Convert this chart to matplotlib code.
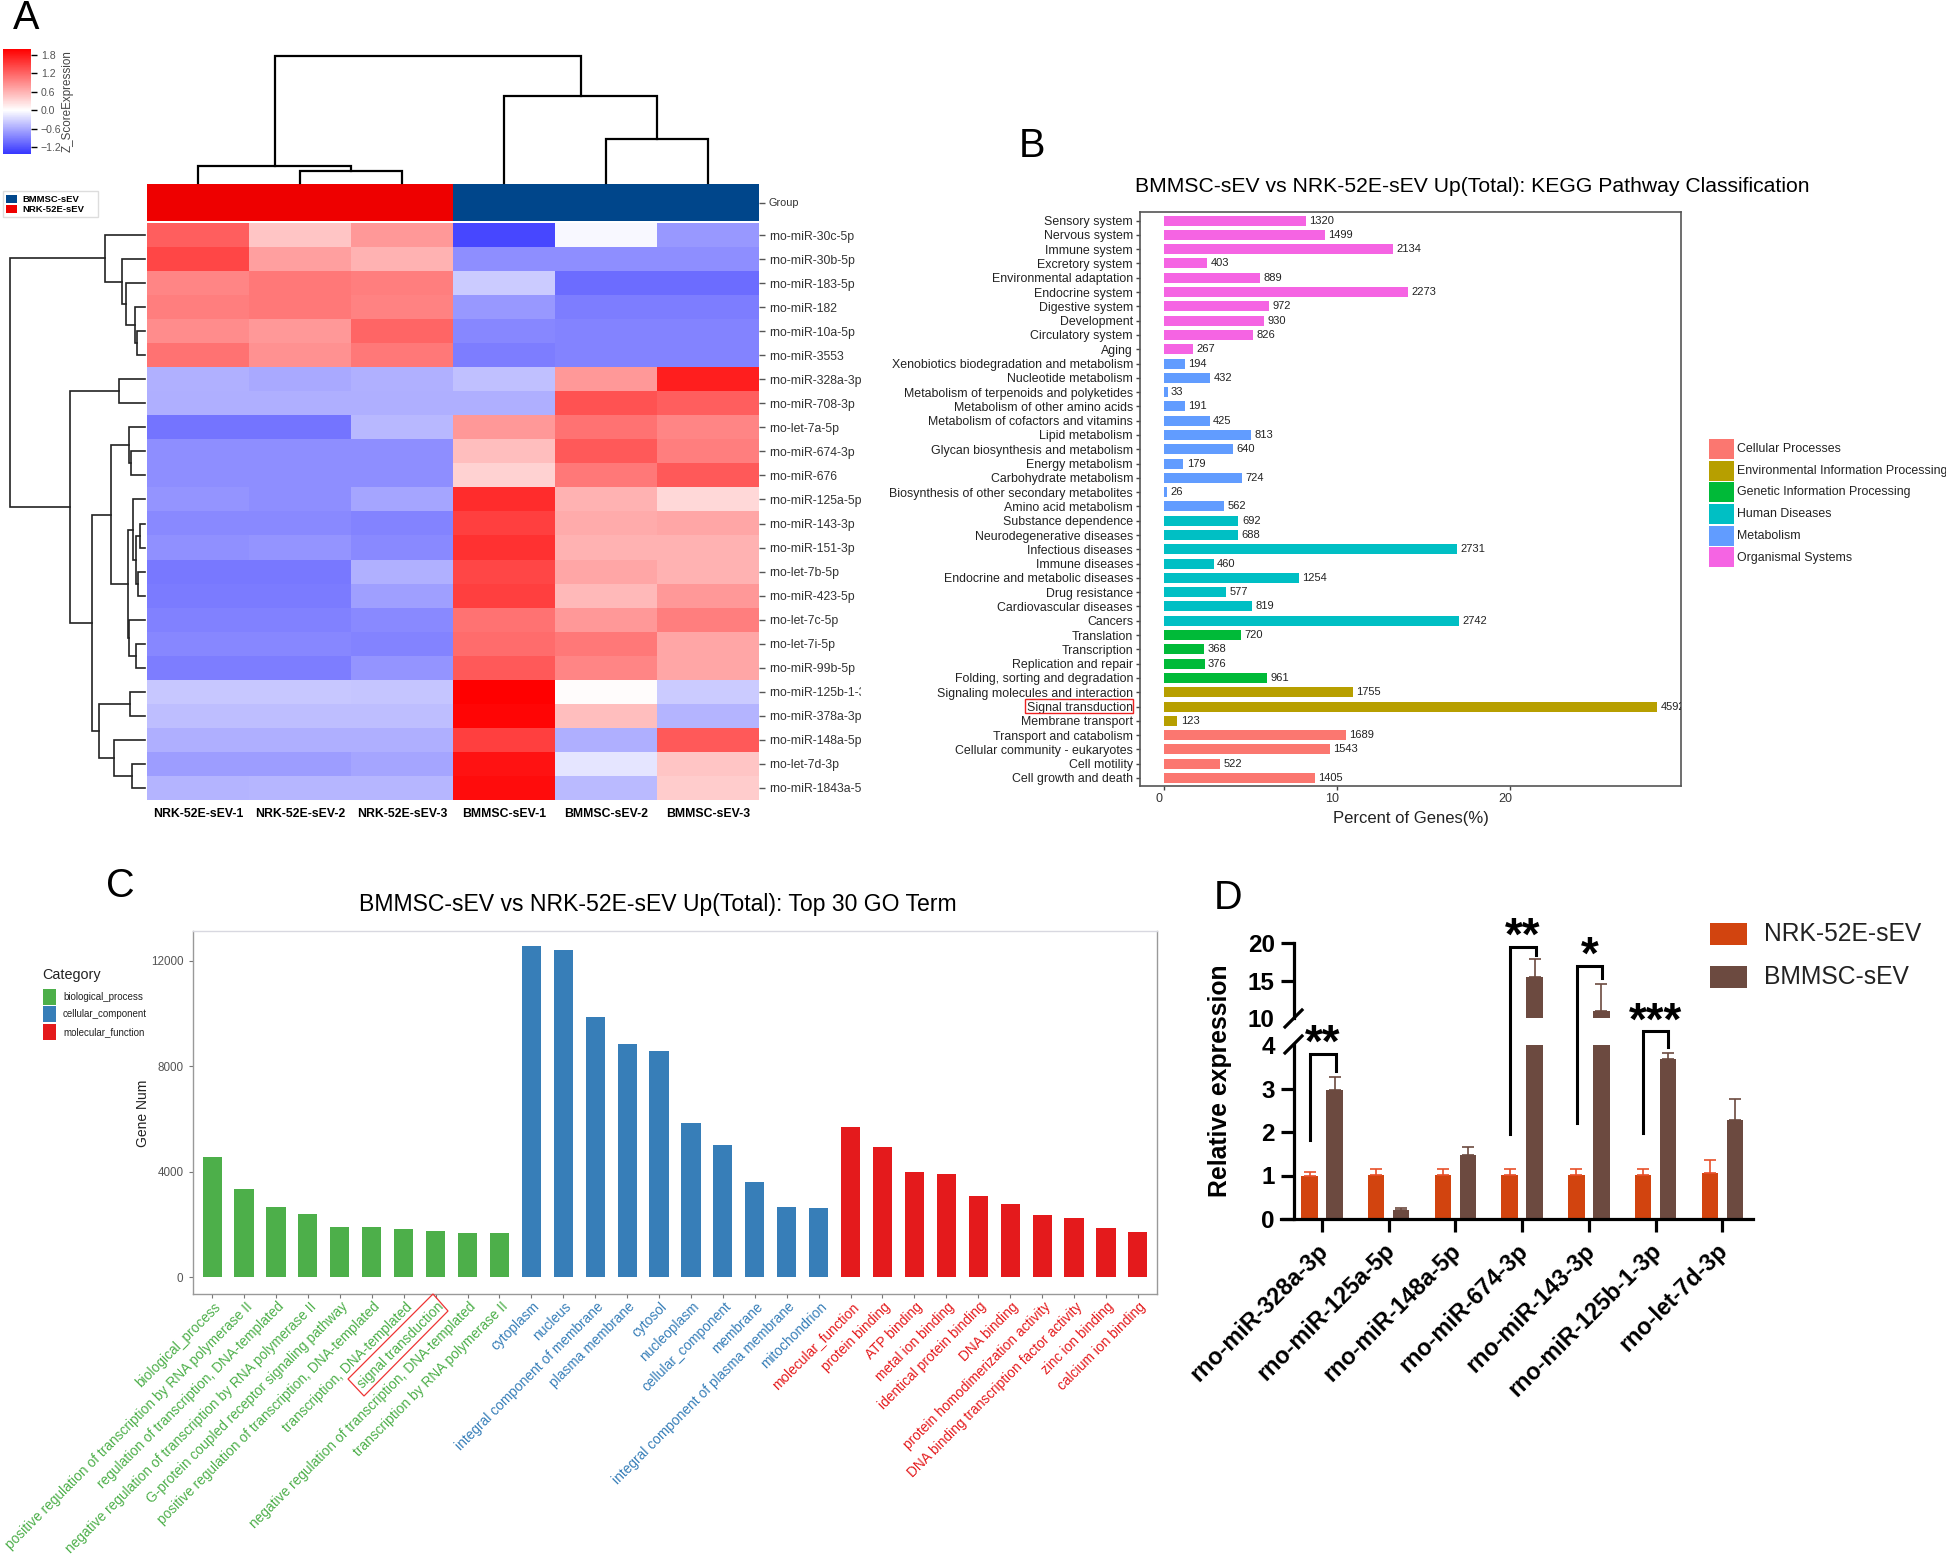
"""Four panel miRNA figure: heatmap (A), KEGG classes (B), GO terms (C), qPCR with broken axis (D)."""
import matplotlib; matplotlib.use("Agg")
import matplotlib.pyplot as plt
import numpy as np
from matplotlib.colors import LinearSegmentedColormap, Normalize
from matplotlib.lines import Line2D
from matplotlib.patches import Rectangle, Polygon
from matplotlib.transforms import Affine2D

plt.rcParams['font.family'] = ['Liberation Sans', 'DejaVu Sans']
W, H = 1946, 1557

# panel A
SAMPLES = ["NRK-52E-sEV-1", "NRK-52E-sEV-2", "NRK-52E-sEV-3", "BMMSC-sEV-1", "BMMSC-sEV-2", "BMMSC-sEV-3"]
MIRNAS = ["rno-miR-30c-5p", "rno-miR-30b-5p", "rno-miR-183-5p", "rno-miR-182", "rno-miR-10a-5p", "rno-miR-3553",
          "rno-miR-328a-3p", "rno-miR-708-3p", "rno-let-7a-5p", "rno-miR-674-3p", "rno-miR-676", "rno-miR-125a-5p",
          "rno-miR-143-3p", "rno-miR-151-3p", "rno-let-7b-5p", "rno-miR-423-5p", "rno-let-7c-5p", "rno-let-7i-5p",
          "rno-miR-99b-5p", "rno-miR-125b-1-3p", "rno-miR-378a-3p", "rno-miR-148a-5p", "rno-let-7d-3p", "rno-miR-1843a-5p"]
ZSCORE = [[1.25, .45, .8, -1.3, -.04, -.73], [1.45, .75, .6, -.79, -.79, -.79], [.95, 1.05, 1.0, -.37, -1.03, -1.03],
          [1.0, 1.05, .98, -.73, -.91, -.91], [.9, .8, 1.2, -.85, -.88, -.88], [1.1, .85, 1.05, -.91, -.88, -.88],
          [-.55, -.6, -.55, -.45, .8, 1.75], [-.57, -.57, -.57, -.57, 1.35, 1.25], [-.98, -.98, -.5, .8, 1.1, .95],
          [-.8, -.8, -.8, .5, 1.3, 1.0], [-.8, -.8, -.8, .35, 1.05, 1.3], [-.76, -.8, -.63, 1.65, .6, .3],
          [-.83, -.83, -.88, 1.5, .65, .7], [-.78, -.76, -.83, 1.6, .6, .6], [-.95, -.95, -.55, 1.45, .7, .6],
          [-.93, -.93, -.67, 1.5, .55, .8], [-.89, -.89, -.83, 1.1, .8, 1.0], [-.85, -.85, -.88, 1.15, 1.05, .7],
          [-.91, -.91, -.76, 1.3, .95, .7], [-.39, -.39, -.4, 2.0, .02, -.37], [-.46, -.46, -.46, 1.95, .5, -.52],
          [-.56, -.56, -.56, 1.5, -.57, 1.3], [-.68, -.68, -.63, 1.85, -.18, .45], [-.52, -.51, -.51, 1.9, -.49, .4]]
GROUPS = [1, 1, 1, 0, 0, 0]
GROUP_NAMES = ["BMMSC-sEV", "NRK-52E-sEV"]
GROUP_COLORS = ["#00468B", "#EE0000"]
# merges like scipy linkage: ids >= n point at an earlier merge
ROW_TREE = [(4, 5, 8), (3, 24, 10), (2, 25, 19), (1, 26, 23), (0, 27, 40), (6, 7, 26), (9, 10, 14), (8, 30, 16),
            (12, 13, 5.5), (14, 15, 7), (32, 33, 9), (11, 34, 12), (17, 18, 9), (16, 36, 16), (35, 37, 17.5),
            (31, 38, 34), (19, 20, 15), (22, 23, 13), (21, 41, 31), (40, 42, 46), (39, 43, 53), (29, 44, 75), (28, 45, 135)]
COL_TREE = [(1, 2, 12), (0, 6, 17), (4, 5, 44), (3, 8, 87), (7, 9, 127)]
CBAR_TICKS = [-1.2, -0.6, 0.0, 0.6, 1.2, 1.8]

# panel B
KEGG = ["Sensory system", "Nervous system", "Immune system", "Excretory system", "Environmental adaptation",
        "Endocrine system", "Digestive system", "Development", "Circulatory system", "Aging",
        "Xenobiotics biodegradation and metabolism", "Nucleotide metabolism", "Metabolism of terpenoids and polyketides",
        "Metabolism of other amino acids", "Metabolism of cofactors and vitamins", "Lipid metabolism",
        "Glycan biosynthesis and metabolism", "Energy metabolism", "Carbohydrate metabolism",
        "Biosynthesis of other secondary metabolites", "Amino acid metabolism", "Substance dependence",
        "Neurodegenerative diseases", "Infectious diseases", "Immune diseases", "Endocrine and metabolic diseases",
        "Drug resistance", "Cardiovascular diseases", "Cancers", "Translation", "Transcription", "Replication and repair",
        "Folding, sorting and degradation", "Signaling molecules and interaction", "Signal transduction",
        "Membrane transport", "Transport and catabolism", "Cellular community - eukaryotes", "Cell motility",
        "Cell growth and death"]
KEGG_N = [1320, 1499, 2134, 403, 889, 2273, 972, 930, 826, 267, 194, 432, 33, 191, 425, 813, 640, 179, 724, 26, 562,
          692, 688, 2731, 460, 1254, 577, 819, 2742, 720, 368, 376, 961, 1755, 4592, 123, 1689, 1543, 522, 1405]
KEGG_PCT = [8.20, 9.31, 13.25, 2.50, 5.52, 14.12, 6.04, 5.78, 5.13, 1.66, 1.20, 2.68, .20, 1.19, 2.64, 5.05, 3.98, 1.11,
            4.50, .16, 3.49, 4.30, 4.27, 16.96, 2.86, 7.79, 3.58, 5.09, 17.03, 4.47, 2.29, 2.34, 5.97, 10.90, 28.52, .76,
            10.49, 9.58, 3.24, 8.73]
KEGG_CLASSES = ["Cellular Processes", "Environmental Information Processing", "Genetic Information Processing",
                "Human Diseases", "Metabolism", "Organismal Systems"]
KEGG_COLORS = ["#FB7770", "#B79F00", "#00BA38", "#00BFC4", "#619CFF", "#F564E3"]
KEGG_CLASS = [5] * 10 + [4] * 11 + [3] * 8 + [2] * 4 + [1] * 3 + [0] * 4

# panel C
GO = ["biological_process", "positive regulation of transcription by RNA polymerase II",
      "regulation of transcription, DNA-templated", "negative regulation of transcription by RNA polymerase II",
      "G-protein coupled receptor signaling pathway", "positive regulation of transcription, DNA-templated",
      "transcription, DNA-templated", "signal transduction", "negative regulation of transcription, DNA-templated",
      "transcription by RNA polymerase II", "cytoplasm", "nucleus", "integral component of membrane", "plasma membrane",
      "cytosol", "nucleoplasm", "cellular_component", "membrane", "integral component of plasma membrane", "mitochondrion",
      "molecular_function", "protein binding", "ATP binding", "metal ion binding", "identical protein binding", "DNA binding",
      "protein homodimerization activity", "DNA binding transcription factor activity", "zinc ion binding", "calcium ion binding"]
GO_N = [4545, 3333, 2650, 2400, 1920, 1895, 1845, 1755, 1667, 1667, 12560, 12410, 9860, 8850, 8560, 5860, 5025, 3600, 2680,
        2640, 5695, 4940, 3980, 3930, 3080, 2765, 2360, 2250, 1870, 1720]
GO_CLASSES = ["biological_process", "cellular_component", "molecular_function"]
GO_COLORS = ["#4DAF4A", "#377EB8", "#E41A1C"]
GO_CLASS = [0] * 10 + [1] * 10 + [2] * 10

# panel D
QPCR = ["rno-miR-328a-3p", "rno-miR-125a-5p", "rno-miR-148a-5p", "rno-miR-674-3p", "rno-miR-143-3p", "rno-miR-125b-1-3p", "rno-let-7d-3p"]
NRK = [1.0, 1.02, 1.01, 1.01, 1.01, 1.01, 1.06]
NRK_ERR = [.08, .14, .14, .14, .14, .14, .29]
BM = [2.97, .21, 1.46, 15.5, 11.0, 3.67, 2.28]
BM_ERR = [.30, .05, .20, 2.4, 3.5, .15, .49]
D_COLORS = ["#D2440F", "#6C4A40"]
D_NAMES = ["NRK-52E-sEV", "BMMSC-sEV"]

fig = plt.figure(figsize=(W / 100, H / 100), dpi=100)
PX = Affine2D().scale(1 / W, -1 / H).translate(0, 1) + fig.transFigure
def axpx(x0, y0, x1, y1, **kw): return fig.add_axes([x0 / W, 1 - y1 / H, (x1 - x0) / W, (y1 - y0) / H], **kw)
def txt(x, y, s, **kw): return fig.text(x / W, 1 - y / H, s, **kw)
def line(xs, ys, **kw): fig.add_artist(Line2D(xs, ys, transform=PX, **kw))
def box(x, y, w, h, **kw): fig.add_artist(Rectangle((x, y), w, h, transform=PX, **kw))
def nudge(labels, dx):
    # call after tick_params, it resets the label transforms
    for lab in labels: lab.set_transform(lab.get_transform() + Affine2D().translate(dx, 0))

def draw_tree(ax, merges, n, horizontal=False, **kw):
    pos, hts = list(range(n)), [0] * n
    for a, b, h in merges:
        xs, ys = [pos[a], pos[a], pos[b], pos[b]], [hts[a], h, h, hts[b]]
        if horizontal: xs, ys = ys, xs
        ax.plot(xs, ys, clip_on=False, solid_joinstyle="miter", **kw)
        pos.append((pos[a] + pos[b]) / 2); hts.append(h)
    ax.axis("off")

for s, x, y in [("A", 13, 29), ("B", 1019, 157), ("C", 106, 897), ("D", 1214, 909)]:
    txt(x, y, s, fontsize=28.5, color="black", va="baseline")

# ---- A
cmap = LinearSegmentedColormap.from_list("bwr2", [(0, "#3636FF"), (1.43 / 3.43, "#FFFFFF"), (1, "#FF0000")])
norm = Normalize(-1.43, 2)
ax = axpx(147, 223, 759, 800)
im = ax.imshow(np.array(ZSCORE), cmap=cmap, norm=norm, aspect="auto", interpolation="nearest")
ax.set_xticks(range(6)); ax.set_xticklabels(SAMPLES, fontsize=8.8, fontweight="bold", color="black")
ax.yaxis.tick_right(); ax.set_yticks(range(24)); ax.set_yticklabels(MIRNAS, fontsize=8.8, color="#333333")
ax.tick_params(axis="x", length=0, pad=6)
ax.tick_params(axis="y", length=4, width=1, color="#555555", pad=3)
for s in ax.spines.values(): s.set_visible(False)
clipbox = Rectangle((759, 0), 102, H, transform=PX)
for lab in ax.get_yticklabels():
    lab.set_clip_path(clipbox); lab.set_clip_on(True)

ax = axpx(147, 184, 759, 221)
ax.bar(range(6), [1] * 6, width=1, color=[GROUP_COLORS[g] for g in GROUPS])
ax.set_xlim(-.5, 5.5); ax.set_ylim(0, 1); ax.set_xticks([]); ax.yaxis.tick_right()
ax.set_yticks([.5]); ax.set_yticklabels(["Group"], fontsize=7.8, color="#333333")
ax.tick_params(axis="y", length=4, width=1, color="#555555", pad=3)
for s in ax.spines.values(): s.set_visible(False)

ax = axpx(147, 56, 759, 183); ax.set_xlim(-.5, 5.5); ax.set_ylim(0, 127)
draw_tree(ax, COL_TREE, 6, color="black", lw=1.6)
ax = axpx(10, 223, 145, 800); ax.set_xlim(135, 0); ax.set_ylim(23.5, -.5)
draw_tree(ax, ROW_TREE, 24, horizontal=True, color="#222222", lw=1.2)

cax = axpx(3, 49, 31, 154)
cb = fig.colorbar(im, cax=cax)
cb.set_ticks(CBAR_TICKS); cb.ax.tick_params(labelsize=7.6, labelcolor="#555555", length=4, width=1, pad=3)
cb.outline.set_visible(False)
txt(68, 101, "Z_ScoreExpression", rotation=90, fontsize=8.4, color="#444444", ha="center", va="center")

box(3, 191, 95, 26, fc="white", ec="#DDDDDD", lw=1)
for i, (nm, c) in enumerate(zip(GROUP_NAMES, GROUP_COLORS)):
    box(6, 195 + i * 10, 11, 8, fc=c, ec="none")
    txt(22, 199 + i * 10, nm, fontsize=6.8, fontweight="bold", va="center", color="black")

# ---- B
ax = axpx(1140, 212, 1681, 786)
y = np.arange(40)
ax.barh(y, KEGG_PCT, height=.7, color=[KEGG_COLORS[c] for c in KEGG_CLASS])
for yi, p, n in zip(y, KEGG_PCT, KEGG_N):
    ax.text(p + .2, yi, str(n), fontsize=8, va="center", color="#222222", clip_on=True)
ax.set_xlim(-1.39, 29.88); ax.set_ylim(39.56, -.6)
ax.set_yticks(y); ax.set_yticklabels(KEGG, fontsize=8.95, color="#222222")
ax.set_xticks([0, 10, 20]); ax.set_xticklabels(["0", "10", "20"], fontsize=9, color="#333333")
ax.tick_params(length=3, width=1, color="#444444", pad=2)
nudge(ax.get_xticklabels(), -5)
ax.set_xlabel("Percent of Genes(%)", fontsize=12, color="#222222", labelpad=4)
for s in ax.spines.values(): s.set_color("#555555"); s.set_linewidth(1.2)
txt(1472, 186, "BMMSC-sEV vs NRK-52E-sEV Up(Total): KEGG Pathway Classification", fontsize=15.25, ha="center", va="center", color="black")
box(1025, 699, 108, 14, fc="none", ec="#EE2222", lw=1)
for i, (nm, c) in enumerate(zip(KEGG_CLASSES, KEGG_COLORS)):
    yc = 449 + i * 21.7
    box(1709, yc - 10, 25, 20, fc=c, ec="none")
    txt(1737, yc, nm, fontsize=8.9, va="center", color="#222222")

# ---- C
ax = axpx(193, 931, 1157, 1294)
x = np.arange(30)
ax.bar(x, GO_N, width=.6, color=[GO_COLORS[c] for c in GO_CLASS])
ax.set_xlim(-.6, 29.6); ax.set_ylim(-630, 13120)
ax.set_yticks([0, 4000, 8000, 12000]); ax.set_yticklabels(["0", "4000", "8000", "12000"], fontsize=8.4, color="#555555")
ax.set_xticks(x); ax.set_xticklabels(GO, fontsize=9.95, rotation=45, ha="right", va="top", rotation_mode="anchor")
for lab, c in zip(ax.get_xticklabels(), GO_CLASS): lab.set_color(GO_COLORS[c])
ax.tick_params(axis="x", length=3, width=.8, color="#777777", pad=1)
ax.tick_params(axis="y", length=3, width=.8, color="#777777", pad=4)
nudge(ax.get_xticklabels(), 1)
for s in ax.spines.values(): s.set_color("#999999"); s.set_linewidth(1)
ax.spines["top"].set_color("#D8D8E0")
txt(658, 905, "BMMSC-sEV vs NRK-52E-sEV Up(Total): Top 30 GO Term", fontsize=16.6, ha="center", va="center", color="black")
txt(143, 1113, "Gene Num", rotation=90, fontsize=10, ha="center", va="center", color="#222222")
txt(42, 975, "Category", fontsize=10.4, va="center", color="#222222")
for i, (nm, c) in enumerate(zip(GO_CLASSES, GO_COLORS)):
    yc = 997 + i * 17.4
    box(43, yc - 8, 13, 16, fc=c, ec="none")
    txt(63, yc, nm, fontsize=7, va="center", color="#222222")
fig.add_artist(Polygon([(433, 1294), (448, 1311), (364, 1396), (348, 1379)], closed=True, transform=PX, fc="none", ec="#EE3333", lw=.9))

# ---- D
lo = axpx(1281, 1045, 1753, 1219); up = axpx(1281, 943, 1753, 1018)
xd = np.arange(7)
for a in (lo, up):
    a.bar(xd - .1875, NRK, width=.246, color=D_COLORS[0])
    a.bar(xd + .1875, BM, width=.246, color=D_COLORS[1])
    a.errorbar(xd - .1875, NRK, yerr=[[0] * 7, NRK_ERR], fmt="none", ecolor="#E8502A", elinewidth=1.2, capsize=4, capthick=1.2)
    a.errorbar(xd + .1875, BM, yerr=[[0] * 7, BM_ERR], fmt="none", ecolor=D_COLORS[1], elinewidth=1.2, capsize=4, capthick=1.2)
    a.set_xlim(-.615, 6.46)
    a.patch.set_alpha(0)
    a.spines["top"].set_visible(False); a.spines["right"].set_visible(False)
    a.spines["left"].set_position(("data", -.42)); a.spines["left"].set_linewidth(2.3)
    a.tick_params(axis="y", length=9.4, width=2.3, pad=4.5, labelsize=17.5)
lo.set_ylim(0, 4); up.set_ylim(10, 20)
lo.set_yticks([0, 1, 2, 3, 4]); up.set_yticks([10, 15, 20])
for a in (lo, up):
    for lab in a.get_yticklabels(): lab.set_fontweight("bold")
lo.yaxis.get_major_ticks()[-1].tick1line.set_visible(False)
up.yaxis.get_major_ticks()[0].tick1line.set_visible(False)
up.spines["bottom"].set_visible(False); up.set_xticks([])
lo.spines["bottom"].set_linewidth(2.3)
lo.set_xticks(xd); lo.set_xticklabels(QPCR, fontsize=16.8, fontweight="bold", rotation=45, ha="right", va="top", rotation_mode="anchor")
lo.tick_params(axis="x", length=9.4, width=2.3, pad=5)
nudge(lo.get_xticklabels(), -6)
line([1285, 1302], [1027, 1010], color="black", lw=2.3); line([1285, 1302], [1053, 1036], color="black", lw=2.3)
txt(1220, 1081, "Relative expression", rotation=90, fontsize=17.8, fontweight="bold", ha="center", va="center")
# significance brackets: left x, right x, left foot, top, right foot
for x0, x1, y0, yt, y1, stars, ys in [(1310, 1336, 1140, 1054, 1071, "**", 1033), (1510, 1536, 1134, 947, 955, "**", 926),
                                      (1577, 1602, 1123, 966, 978, "*", 945), (1643, 1668, 1133, 1031, 1047, "***", 1011)]:
    line([x0, x0, x1, x1], [y0, yt, yt, y1], color="black", lw=2.2, solid_joinstyle="miter")
    txt((x0 + x1) / 2, ys + 12, stars, fontsize=33, fontweight="bold", ha="center", va="center")
for i, (nm, c) in enumerate(zip(D_NAMES, D_COLORS)):
    yc = 934 + i * 43
    box(1710, yc - 11, 37, 22, fc=c, ec="none")
    txt(1764, yc, nm, fontsize=17.7, va="center", color="#222222")

fig.savefig("out.png", dpi=100)
